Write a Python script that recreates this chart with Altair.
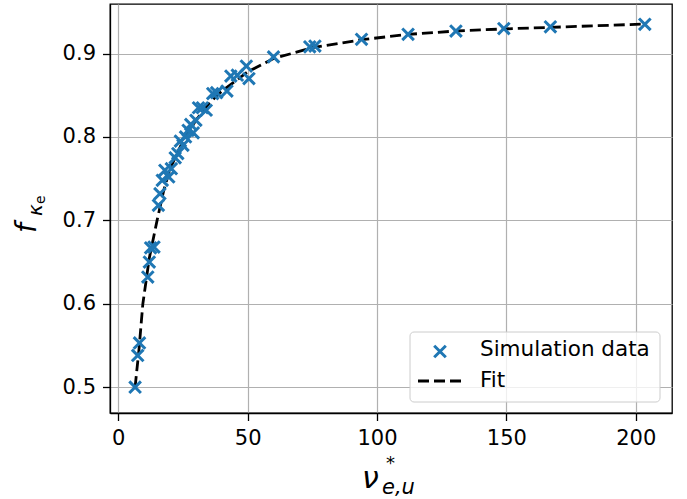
import altair as alt
import pandas as pd

# Simulation data
sim_nu = [6.5, 7.5, 8.2, 11.4, 12.0, 12.5, 13.8, 15.5, 16.1, 17.0, 18.0, 19.5,
          20.5, 22.0, 23.0, 24.0, 25.0, 26.0, 27.0, 28.0, 29.0, 30.0, 31.0,
          32.5, 34.0, 36.5, 38.0, 42.0, 43.5, 46.0, 49.5, 50.5, 60.0, 74.0,
          76.0, 94.0, 112.0, 130.5, 149.0, 167.0, 203.5]
sim_f = [0.500, 0.538, 0.553, 0.632, 0.650, 0.667, 0.668, 0.718, 0.732, 0.748,
         0.760, 0.752, 0.762, 0.775, 0.780, 0.795, 0.790, 0.800, 0.808, 0.815,
         0.805, 0.820, 0.835, 0.835, 0.832, 0.852, 0.853, 0.855, 0.873, 0.874,
         0.885, 0.870, 0.896, 0.908, 0.909, 0.917, 0.923, 0.927, 0.930, 0.932,
         0.935]

# Fit curve
fit_nu = [6.5, 8.0, 9.5, 12.0, 15.0, 17.5, 20.0, 25.0, 30.0, 35.0, 40.0, 50.0,
          60.0, 75.0, 94.0, 112.0, 130.5, 149.0, 167.0, 203.5]
fit_f = [0.500, 0.545, 0.600, 0.655, 0.700, 0.735, 0.762, 0.795, 0.820, 0.840,
         0.855, 0.878, 0.894, 0.907, 0.9166, 0.923, 0.927, 0.9295, 0.9314, 0.9354]

x_ticks = [0, 50, 100, 150, 200]
y_ticks = [0.5, 0.6, 0.7, 0.8, 0.9]

legend_labels = ["Simulation data", "Fit"]

FONT = "DejaVu Sans"
BLUE = "#1f77b4"
XPATH = "M-1,-1L1,1M-1,1L1,-1"

sim_df = pd.DataFrame({"nu": sim_nu, "f": sim_f})
fit_df = pd.DataFrame({"nu": fit_nu, "f": fit_f})

xscale = alt.Scale(domain=[-3.2, 214.0], nice=False, zero=False)
yscale = alt.Scale(domain=[0.469, 0.9594], nice=False, zero=False)

xaxis = alt.Axis(values=x_ticks, title=None, format="d", grid=True)
yaxis = alt.Axis(values=y_ticks, title=None, format=".1f", grid=True)

fit_line = alt.Chart(fit_df).mark_line(
    color="black", strokeWidth=2.8, strokeDash=[11, 5], clip=True
).encode(
    x=alt.X("nu:Q", scale=xscale, axis=xaxis),
    y=alt.Y("f:Q", scale=yscale, axis=yaxis),
)

points = alt.Chart(sim_df).mark_point(
    shape=XPATH, filled=False, color=BLUE, strokeWidth=3, size=135, opacity=1
).encode(
    x=alt.X("nu:Q", scale=xscale),
    y=alt.Y("f:Q", scale=yscale),
)

# Legend (drawn manually to mimic matplotlib's)
leg_box = alt.Chart(pd.DataFrame({"a": [0]})).mark_rect(
    fill="white", fillOpacity=0.8, stroke="#cccccc", strokeWidth=1, cornerRadius=4
).encode(x=alt.value(300), x2=alt.value(550), y=alt.value(328), y2=alt.value(398))

leg_marker = alt.Chart(pd.DataFrame({"a": [0]})).mark_point(
    shape=XPATH, filled=False, color=BLUE, strokeWidth=3, size=135, opacity=1
).encode(x=alt.value(330), y=alt.value(347.5))

leg_line = alt.Chart(pd.DataFrame({"a": [0]})).mark_rule(
    color="black", strokeWidth=2.8, strokeDash=[11, 5]
).encode(x=alt.value(308), x2=alt.value(352), y=alt.value(377))

leg_text1 = alt.Chart(pd.DataFrame({"t": [legend_labels[0]]})).mark_text(
    font=FONT, fontSize=21.5, align="left", baseline="middle", color="black"
).encode(x=alt.value(370), y=alt.value(346), text="t:N")

leg_text2 = alt.Chart(pd.DataFrame({"t": [legend_labels[1]]})).mark_text(
    font=FONT, fontSize=21.5, align="left", baseline="middle", color="black"
).encode(x=alt.value(370), y=alt.value(377), text="t:N")

# Axis titles (mathtext imitation)
def txt(s, x, y, size, italic=True, angle=0, align="left", baseline="alphabetic"):
    kw = dict(font=FONT, fontSize=size, align=align, baseline=baseline,
              color="black", angle=angle)
    if italic:
        kw["fontStyle"] = "italic"
    return alt.Chart(pd.DataFrame({"t": [s]})).mark_text(**kw).encode(
        x=alt.value(x), y=alt.value(y), text="t:N")

xl_nu = txt("ν", 252, 484, 30)
xl_star = txt("*", 276, 465, 18, italic=False)
xl_sub = txt("e,u", 272, 490, 21)

yl_f = txt("f", -74, 229, 28, angle=270)
yl_sub = txt("κ", -68, 212, 20, angle=270)
yl_sub2 = txt("e", -65, 200, 14, italic=False, angle=270)

chart = alt.layer(
    fit_line, points, leg_box, leg_marker, leg_line, leg_text1, leg_text2,
    xl_nu, xl_star, xl_sub, yl_f, yl_sub, yl_sub2
).properties(
    width=562, height=409,
    padding={"left": 110, "top": 4, "right": 15, "bottom": 86},
    autosize=alt.AutoSizeParams(type="none"),
    background="white",
).configure_view(
    stroke="black", strokeWidth=1.3
).configure_axis(
    labelFont=FONT, labelFontSize=21, labelColor="black",
    tickColor="black", tickWidth=1.3, tickSize=7.5,
    domainColor="black", domainWidth=1.3,
    gridColor="#b0b0b0", gridWidth=1.2, labelPadding=7,
)

chart.save("out.html", embed_options={"renderer": "svg", "actions": False})
